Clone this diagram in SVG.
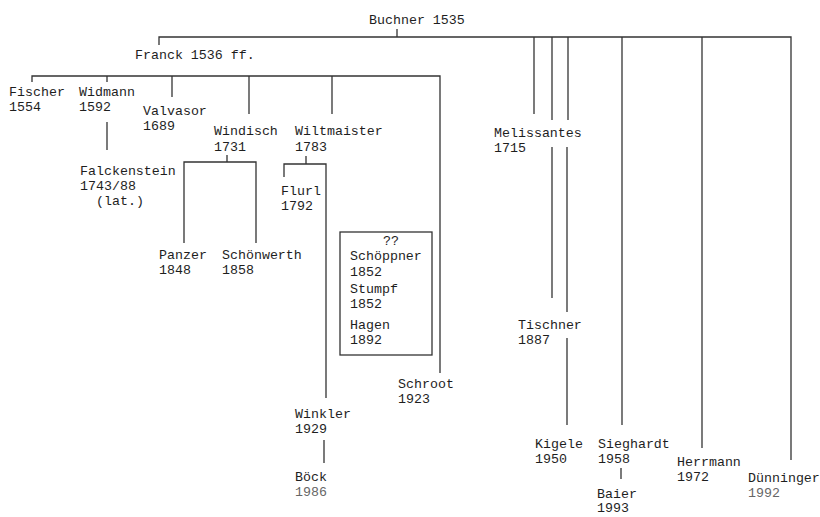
<svg xmlns="http://www.w3.org/2000/svg" width="820" height="517" viewBox="0 0 820 517">
<style>
text{font-family:"Liberation Mono","DejaVu Sans Mono",monospace;font-size:13.3px;fill:#1e1e1e}
.g{fill:#666}
.c line,.c path{stroke:#333;stroke-width:1.3;fill:none}
.box{fill:none;stroke:#333;stroke-width:1.3}
</style>
<rect width="820" height="517" fill="#fff"/>
<g class="c" id="connectors">
<path d="M397 29V37M159 45V37H791V460"/>
<path d="M32 82V76H440V373"/>
<line x1="107" y1="76" x2="107" y2="82"/>
<line x1="172" y1="76" x2="172" y2="97"/>
<line x1="249" y1="76" x2="249" y2="114"/>
<line x1="332" y1="76" x2="332" y2="114"/>
<line x1="107" y1="122" x2="107" y2="150"/>
<path d="M227 155V162M184 243V162H256V243"/>
<path d="M306 156V164M284 177V164H326V398"/>
<line x1="324" y1="440" x2="324" y2="463"/>
<line x1="534" y1="37" x2="534" y2="114"/>
<line x1="552" y1="37" x2="552" y2="120"/>
<line x1="568" y1="37" x2="568" y2="120"/>
<line x1="552" y1="147" x2="552" y2="298"/>
<line x1="567" y1="147" x2="567" y2="312"/>
<line x1="567" y1="338" x2="567" y2="425"/>
<line x1="622" y1="37" x2="622" y2="425"/>
<line x1="621" y1="468" x2="621" y2="479"/>
<line x1="702" y1="37" x2="702" y2="448"/>
</g>
<g id="buchner"><text x="369" y="24">Buchner 1535</text></g>
<g id="franck"><text x="135" y="59">Franck 1536 ff.</text></g>
<g id="fischer"><text x="9" y="96">Fischer</text><text x="9" y="111">1554</text></g>
<g id="widmann"><text x="79" y="96">Widmann</text><text x="79" y="111">1592</text></g>
<g id="valvasor"><text x="143" y="115">Valvasor</text><text x="143" y="130">1689</text></g>
<g id="windisch"><text x="214" y="135">Windisch</text><text x="214" y="151">1731</text></g>
<g id="wiltmaister"><text x="295" y="135">Wiltmaister</text><text x="295" y="151">1783</text></g>
<g id="falckenstein"><text x="80" y="175">Falckenstein</text><text x="80" y="190">1743/88</text><text x="96" y="205">(lat.)</text></g>
<g id="flurl"><text x="281" y="195">Flurl</text><text x="281" y="210">1792</text></g>
<g id="panzer"><text x="159" y="259">Panzer</text><text x="159" y="274">1848</text></g>
<g id="schoenwerth"><text x="222" y="259">Schönwerth</text><text x="222" y="274">1858</text></g>
<g id="box">
<rect class="box" x="340" y="232" width="92" height="123"/>
<text x="383" y="245">??</text>
<text x="350" y="260">Schöppner</text><text x="350" y="276">1852</text>
<text x="350" y="293">Stumpf</text><text x="350" y="308">1852</text>
<text x="350" y="329">Hagen</text><text x="350" y="344">1892</text>
</g>
<g id="schroot"><text x="398" y="388">Schroot</text><text x="398" y="403">1923</text></g>
<g id="winkler"><text x="295" y="418">Winkler</text><text x="295" y="433">1929</text></g>
<g id="boeck"><text x="295" y="481">Böck</text><text class="g" x="295" y="496">1986</text></g>
<g id="melissantes"><text x="494" y="137">Melissantes</text><text x="494" y="152">1715</text></g>
<g id="tischner"><text x="518" y="329">Tischner</text><text x="518" y="344">1887</text></g>
<g id="kigele"><text x="535" y="448">Kigele</text><text x="535" y="463">1950</text></g>
<g id="sieghardt"><text x="598" y="448">Sieghardt</text><text x="598" y="463">1958</text></g>
<g id="baier"><text x="597" y="498">Baier</text><text x="597" y="512">1993</text></g>
<g id="herrmann"><text x="677" y="466">Herrmann</text><text x="677" y="481">1972</text></g>
<g id="duenninger"><text x="748" y="482">Dünninger</text><text class="g" x="748" y="497">1992</text></g>
</svg>
